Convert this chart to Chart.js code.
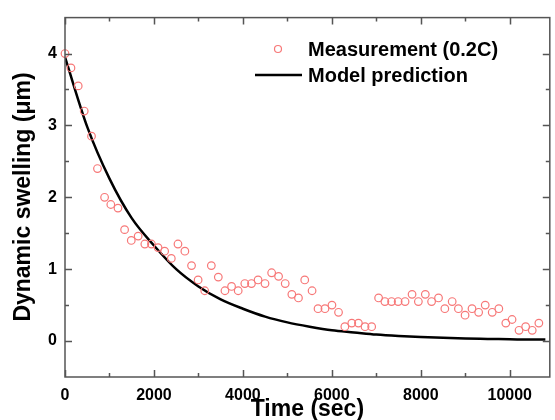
<!DOCTYPE html>
<html>
<head>
<meta charset="utf-8">
<script src="https://cdn.jsdelivr.net/npm/chart.js@4.4.0/dist/chart.umd.min.js"></script>
<style>
  html, body { margin: 0; padding: 0; background: #fff; }
  #wrap { width: 555px; height: 420px; }
</style>
</head>
<body>
<div id="wrap"><canvas id="swell"></canvas></div>
<script>
// measured points, time in sec / swelling in um
const measTime = [0, 134, 297, 432, 596, 730, 890, 1030, 1191, 1340, 1490, 1645, 1795, 1943,
  2092, 2240, 2390, 2540, 2695, 2845, 2993, 3142, 3290, 3447, 3596, 3745, 3894, 4043, 4192,
  4341, 4497, 4646, 4802, 4951, 5100, 5249, 5390, 5555, 5689, 5845, 6002, 6150, 6292, 6448,
  6597, 6746, 6895, 7051, 7192, 7342, 7490, 7646, 7803, 7945, 8101, 8242, 8398, 8540, 8705,
  8845, 8995, 9151, 9300, 9448, 9605, 9754, 9911, 10051, 10208, 10357, 10505, 10654]
const measSwell = [4.00, 3.80, 3.55, 3.20, 2.85, 2.40, 2.00, 1.90, 1.85, 1.55, 1.40, 1.46, 1.35, 1.35,
  1.30, 1.25, 1.15, 1.35, 1.25, 1.05, 0.85, 0.70, 1.05, 0.89, 0.70, 0.76, 0.70, 0.80, 0.80,
  0.85, 0.80, 0.95, 0.90, 0.80, 0.65, 0.60, 0.85, 0.70, 0.45, 0.45, 0.50, 0.40, 0.20, 0.25,
  0.25, 0.20, 0.20, 0.60, 0.55, 0.55, 0.55, 0.55, 0.65, 0.55, 0.65, 0.55, 0.60, 0.45, 0.55,
  0.45, 0.36, 0.45, 0.40, 0.50, 0.40, 0.45, 0.25, 0.30, 0.15, 0.20, 0.15, 0.25]

// model curve
const modelTime = [0, 500, 1000, 1500, 2000, 2500, 3000, 3500, 4000, 4500, 5000, 5500, 6000,
  6500, 7000, 7500, 8000, 8500, 9000, 9500, 10000, 10500, 10800]
const modelSwell = [3.95, 2.98, 2.26, 1.71, 1.33, 1.00, 0.76, 0.58, 0.45, 0.34, 0.26, 0.20, 0.15,
  0.12, 0.09, 0.07, 0.055, 0.045, 0.035, 0.03, 0.025, 0.02, 0.02]

const xMajor = [0, 2000, 4000, 6000, 8000, 10000]
const xMinor = [1000, 3000, 5000, 7000, 9000]
const yMajor = [0, 1, 2, 3, 4]
const yMinor = [0.5, 1.5, 2.5, 3.5]

const legendNames = ['Measurement (0.2C)', 'Model prediction']
const xTitle = 'Time (sec)'
const yTitle = 'Dynamic swelling (\u03bcm)'

const axisColor = '#555555'
const ptColor = '#f77878'

function pts(xs, ys) {
  return xs.map((x, i) => ({ x: x, y: ys[i] }))
}

// frame, inward ticks, axis titles and legend
const decorations = {
  id: 'decorations',
  afterDraw(chart) {
    const ctx = chart.ctx
    const a = chart.chartArea
    const xs = chart.scales.x
    const ys = chart.scales.y
    ctx.save()
    ctx.strokeStyle = axisColor
    ctx.lineWidth = 1.5
    ctx.strokeRect(a.left, a.top, a.right - a.left, a.bottom - a.top)

    ctx.beginPath()
    const xt = (vals, len) => {
      vals.forEach(v => {
        const px = Math.round(xs.getPixelForValue(v)) + 0.5
        ctx.moveTo(px, a.bottom); ctx.lineTo(px, a.bottom - len)
        ctx.moveTo(px, a.top); ctx.lineTo(px, a.top + len)
      })
    }
    const yt = (vals, len) => {
      vals.forEach(v => {
        const py = Math.round(ys.getPixelForValue(v)) + 0.5
        ctx.moveTo(a.left, py); ctx.lineTo(a.left + len, py)
        ctx.moveTo(a.right, py); ctx.lineTo(a.right - len, py)
      })
    }
    xt(xMajor, 7); xt(xMinor, 4)
    yt(yMajor, 7); yt(yMinor, 4)
    ctx.stroke()

    // axis titles
    ctx.fillStyle = '#000'
    ctx.font = 'bold 23px "Liberation Sans", Arial, sans-serif'
    ctx.textAlign = 'center'
    ctx.textBaseline = 'middle'
    ctx.fillText(xTitle, (a.left + a.right) / 2, 410)
    ctx.save()
    ctx.translate(24, 197)
    ctx.rotate(-Math.PI / 2)
    ctx.fillText(yTitle, 0, 0)
    ctx.restore()

    // legend
    ctx.font = 'bold 20px "Liberation Sans", Arial, sans-serif'
    ctx.textAlign = 'left'
    ctx.fillText(legendNames[0], 308, 50)
    ctx.fillText(legendNames[1], 308, 76)
    ctx.strokeStyle = ptColor
    ctx.lineWidth = 1.2
    ctx.beginPath()
    ctx.arc(278, 49, 3.5, 0, Math.PI * 2)
    ctx.stroke()
    ctx.strokeStyle = '#000'
    ctx.lineWidth = 2.5
    ctx.beginPath()
    ctx.moveTo(255, 75); ctx.lineTo(302, 75)
    ctx.stroke()
    ctx.restore()
  }
}

const tickFont = { family: '"Liberation Sans", Arial, sans-serif', size: 16, weight: 'bold' }

const config = {
  type: 'scatter',
  data: {
    datasets: [
      {
        label: legendNames[0],
        data: pts(measTime, measSwell),
        showLine: false,
        pointStyle: 'circle',
        pointRadius: 3.8,
        pointBorderWidth: 1.2,
        pointBorderColor: ptColor,
        pointBackgroundColor: 'rgba(0,0,0,0)',
        clip: false,
        order: 1
      },
      {
        label: legendNames[1],
        data: pts(modelTime, modelSwell),
        showLine: true,
        borderColor: '#000',
        borderWidth: 2.5,
        pointRadius: 0,
        cubicInterpolationMode: 'monotone',
        order: 2
      }
    ]
  },
  plugins: [decorations],
  options: {
    responsive: true,
    maintainAspectRatio: false,
    animation: false,
    events: [],
    layout: { padding: { top: 12, right: 1, left: 0, bottom: 0 } },
    plugins: { legend: { display: false }, tooltip: { enabled: false } },
    scales: {
      x: {
        type: 'linear',
        min: 0,
        max: 10900,
        afterBuildTicks: axis => { axis.ticks = xMajor.map(v => ({ value: v })) },
        afterFit: axis => { axis.height = 43 },
        grid: { display: false, drawTicks: false },
        border: { display: false },
        ticks: { color: '#000', font: tickFont, padding: 9, maxRotation: 0,
          callback: v => String(v) }
      },
      y: {
        type: 'linear',
        min: -0.5,
        max: 4.5,
        afterBuildTicks: axis => { axis.ticks = yMajor.map(v => ({ value: v })) },
        afterFit: axis => { axis.width = 65 },
        grid: { display: false, drawTicks: false },
        border: { display: false },
        ticks: { color: '#000', font: tickFont, padding: 8,
          callback: v => String(v) }
      }
    }
  }
}

const swellChart = new Chart(document.getElementById('swell'), config)
</script>
</body>
</html>
